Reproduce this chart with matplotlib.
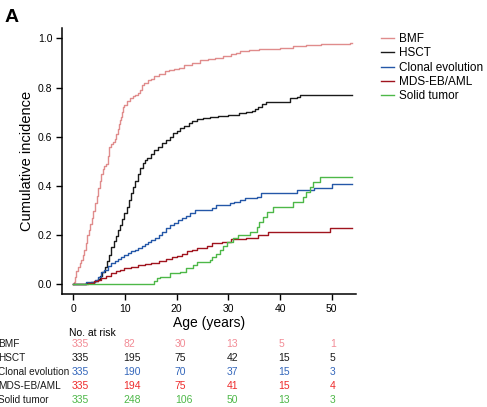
import matplotlib
matplotlib.use("Agg")
import matplotlib.pyplot as plt
from matplotlib.transforms import blended_transform_factory

plt.rcParams["font.family"] = ["Liberation Sans", "DejaVu Sans"]

# step knots (age in years, cumulative incidence)
bmf_t = [0, 0.15, 0.3, 0.6, 0.9, 1.2, 1.5, 1.8, 2.1, 2.4, 2.7, 3.0, 3.3, 3.6, 3.9,
         4.2, 4.5, 4.8, 5.1, 5.4, 5.7, 6.0, 6.4, 6.7, 7.0, 7.3, 7.7, 8.0, 8.3,
         8.65, 8.9, 9.1, 9.3, 9.5, 9.7, 9.9, 10.3, 10.9, 11.5, 12.0, 12.5, 13.0,
         13.3, 13.6, 14.4, 15.0, 15.7, 16.5, 17.7, 18.5, 19.5, 20.5, 21.5, 23.0,
         24.5, 26.0, 27.5, 29.0, 30.5, 31.5, 32.3, 34.0, 36.0, 38.0, 40.0, 42.5,
         45.0, 48.0, 51.0, 53.5, 54.0]
bmf_y = [0, 0.01, 0.03, 0.055, 0.07, 0.085, 0.10, 0.12, 0.14, 0.17, 0.20, 0.22,
         0.245, 0.27, 0.30, 0.33, 0.36, 0.39, 0.42, 0.45, 0.47, 0.48, 0.49, 0.52,
         0.56, 0.57, 0.58, 0.59, 0.61, 0.63, 0.65, 0.67, 0.68, 0.70, 0.72, 0.73,
         0.745, 0.756, 0.765, 0.77, 0.776, 0.79, 0.81, 0.817, 0.83, 0.835, 0.847,
         0.855, 0.868, 0.87, 0.875, 0.88, 0.89, 0.90, 0.91, 0.915, 0.92, 0.93,
         0.935, 0.94, 0.95, 0.952, 0.955, 0.958, 0.962, 0.968, 0.972, 0.975,
         0.978, 0.982, 0.982]

hsct_t = [0, 1, 2.5, 3.5, 4.2, 4.8, 5.2, 5.6, 6.1, 6.5, 6.9, 7.35, 7.8, 8.2, 8.65,
          9.0, 9.5, 9.9, 10.3, 10.8, 11.2, 11.6, 12.0, 12.5, 13.0, 13.4, 13.8,
          14.3, 15.1, 15.7, 16.4, 17.2, 18.0, 18.7, 19.3, 20.0, 20.7, 21.5, 22.3,
          23.0, 24.0, 25.0, 26.5, 28.0, 30.0, 32.0, 33.5, 34.5, 35.2, 35.8, 36.6,
          37.2, 41.9, 43.2, 43.9, 54.0]
hsct_y = [0, 0.003, 0.006, 0.01, 0.015, 0.02, 0.035, 0.05, 0.07, 0.095, 0.12,
          0.15, 0.175, 0.195, 0.22, 0.24, 0.265, 0.29, 0.315, 0.345, 0.37, 0.395,
          0.42, 0.45, 0.475, 0.495, 0.505, 0.515, 0.53, 0.545, 0.56, 0.575, 0.587,
          0.60, 0.615, 0.625, 0.635, 0.645, 0.655, 0.665, 0.672, 0.678, 0.682,
          0.685, 0.69, 0.695, 0.70, 0.705, 0.712, 0.722, 0.732, 0.742, 0.756,
          0.763, 0.77, 0.77]

clonal_t = [0, 1, 2.5, 4.1, 4.7, 5.4, 6.0, 6.7, 7.35, 8.0, 8.7, 9.3, 9.9, 10.6,
            11.2, 11.9, 12.5, 13.2, 13.8, 14.4, 15.1, 15.8, 16.5, 17.2, 18.0, 18.7,
            19.4, 20.2, 21.0, 21.8, 22.5, 23.5, 26.8, 27.7, 30.3, 31.0, 32.3, 33.2,
            35.5, 36.4, 43.2, 46.5, 50.0, 54.0]
clonal_y = [0, 0.003, 0.008, 0.017, 0.03, 0.05, 0.06, 0.075, 0.085, 0.095, 0.105,
            0.113, 0.12, 0.128, 0.135, 0.14, 0.146, 0.155, 0.163, 0.172, 0.18, 0.19,
            0.20, 0.213, 0.228, 0.24, 0.25, 0.26, 0.27, 0.28, 0.29, 0.302, 0.309,
            0.322, 0.329, 0.336, 0.343, 0.352, 0.355, 0.37, 0.383, 0.39, 0.406,
            0.406]

mds_t = [0, 1.5, 2.85, 4.0, 4.7, 5.4, 6.4, 7.35, 8.2, 9.0, 9.9, 11.2, 12.5, 13.8,
         15.1, 16.5, 18.0, 19.0, 20.0, 21.0, 22.0, 23.0, 24.0, 25.8, 26.8, 28.7,
         30.6, 33.5, 35.8, 37.7, 49.7, 54.0]
mds_y = [0, 0.003, 0.006, 0.012, 0.018, 0.024, 0.035, 0.045, 0.053, 0.06, 0.065,
         0.072, 0.078, 0.083, 0.088, 0.095, 0.105, 0.11, 0.117, 0.125, 0.135,
         0.14, 0.146, 0.156, 0.167, 0.173, 0.183, 0.19, 0.20, 0.214, 0.228, 0.228]

solid_t = [0, 15.6, 16.1, 16.8, 18.7, 20.6, 21.9, 23.2, 23.9, 26.4, 26.8, 27.6,
           28.4, 29.0, 29.7, 30.9, 31.9, 34.2, 35.5, 36.0, 36.8, 37.4, 38.7, 42.6,
           44.5, 45.1, 45.8, 46.4, 47.7, 54.0]
solid_y = [0, 0.015, 0.028, 0.031, 0.045, 0.051, 0.065, 0.078, 0.092, 0.099,
           0.112, 0.125, 0.139, 0.155, 0.173, 0.187, 0.20, 0.214, 0.234, 0.254,
           0.275, 0.295, 0.315, 0.336, 0.356, 0.376, 0.397, 0.417, 0.437, 0.437]

labels = ["BMF", "HSCT", "Clonal evolution", "MDS-EB/AML", "Solid tumor"]
line_colors = ["#E08C8C", "#1A1A1A", "#2457A8", "#A0141E", "#4DB848"]
text_colors = ["#F28B95", "#1A1A1A", "#3366BB", "#EE2C2C", "#4DB848"]

risk_times = [0, 10, 20, 30, 40, 50]
risk_bmf = [335, 82, 30, 13, 5, 1]
risk_hsct = [335, 195, 75, 42, 15, 5]
risk_clonal = [335, 190, 70, 37, 15, 3]
risk_mds = [335, 194, 75, 41, 15, 4]
risk_solid = [335, 248, 106, 50, 13, 3]

W, H = 487, 407
fig = plt.figure(figsize=(W / 100, H / 100), dpi=100)
ax = fig.add_axes([62 / W, 1 - 294 / H, 294 / W, 266 / H])

curves = [(bmf_t, bmf_y), (hsct_t, hsct_y), (clonal_t, clonal_y),
          (mds_t, mds_y), (solid_t, solid_y)]
for (t, y), lab, c in zip(curves, labels, line_colors):
    ax.plot(t, y, drawstyle="steps-post", color=c, lw=1.0, label=lab)

ax.set_xlim(-2.19, 54.7)
ax.set_ylim(-0.039, 1.042)
ax.set_xticks(risk_times)
ax.set_yticks([0, 0.2, 0.4, 0.6, 0.8, 1.0])
ax.set_yticklabels(["0.0", "0.2", "0.4", "0.6", "0.8", "1.0"])
for s in ["top", "right"]:
    ax.spines[s].set_visible(False)
for s in ["left", "bottom"]:
    ax.spines[s].set_linewidth(1.1)
ax.tick_params(direction="out", length=4.5, width=1.0, labelsize=7.5, pad=2.5)
ax.set_xlabel("Age (years)", fontsize=10, labelpad=2)
ax.set_ylabel("Cumulative incidence", fontsize=10.5, labelpad=3)

fig.legend(loc="upper left", bbox_to_anchor=(381 / W, 1 - 33 / H), frameon=False,
           fontsize=8.5, handlelength=1.1, handletextpad=0.45, labelspacing=0.2,
           borderpad=0, borderaxespad=0)

fig.text(5 / W, 1 - 18 / H, "A", fontsize=14, fontweight="bold", va="center")

# number at risk table
tr = blended_transform_factory(ax.transData, fig.transFigure)
fig.text(69 / W, 1 - 333 / H, "No. at risk", fontsize=7.5, va="center")
rows = [risk_bmf, risk_hsct, risk_clonal, risk_mds, risk_solid]
for i, (row, lab, c) in enumerate(zip(rows, labels, text_colors)):
    yf = 1 - (344 + 14 * i) / H
    fig.text(-1.5 / W, yf, lab, fontsize=7.2, va="center", color="#1A1A1A")
    for t, n in zip(risk_times, row):
        ax.text(t - 0.35, yf, str(n), transform=tr, fontsize=7.5, va="center",
                ha="left", color=c, clip_on=False)

fig.savefig("out.png", dpi=100)
